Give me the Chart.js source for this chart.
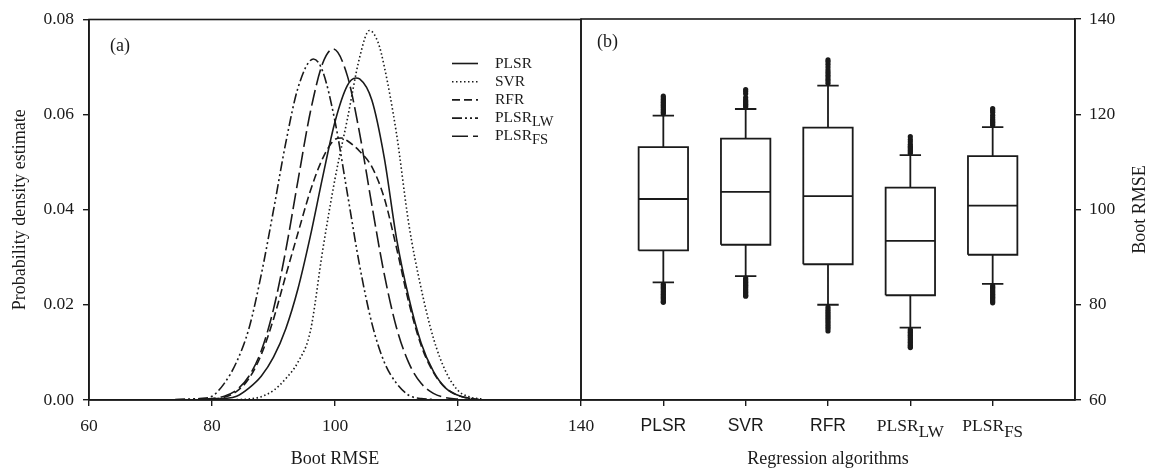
<!DOCTYPE html>
<html>
<head>
<meta charset="utf-8">
<script src="https://cdn.jsdelivr.net/npm/chart.js@4.4.0/dist/chart.umd.min.js"></script>
<style>
  html, body { margin: 0; padding: 0; background: #fff; }
  #wrap { position: relative; width: 1150px; height: 476px; overflow: hidden; }
  #left { position: absolute; left: 0; top: 0; }
  #right { position: absolute; left: 560px; top: 0; }
</style>
</head>
<body>
<div id="wrap">
  <canvas id="left" width="605" height="476"></canvas>
  <canvas id="right" width="590" height="476"></canvas>
</div>
<script>
// (a) density of bootstrap RMSE
const plsrX = [80, 82, 84, 86, 88, 90, 92, 94, 96, 98, 100, 102, 103.4, 104, 106, 108, 110, 112, 114, 116, 118, 120, 122];
const plsrY = [0.0001, 0.0003, 0.0008, 0.0025, 0.0050, 0.0090, 0.0150, 0.0235, 0.0345, 0.0469, 0.0585, 0.0661, 0.0677, 0.0675, 0.0630, 0.0510, 0.0340, 0.0215, 0.0120, 0.0060, 0.0025, 0.0010, 0.0003];

const svrX = [84, 86, 88, 90, 92, 94, 96, 98, 100, 102, 104, 105.6, 107, 108, 110, 112, 114, 116, 118, 120, 122, 124];
const svrY = [0.0001, 0.0002, 0.0007, 0.0020, 0.0045, 0.0080, 0.0145, 0.0315, 0.0465, 0.0590, 0.0720, 0.0777, 0.0752, 0.0702, 0.0560, 0.0370, 0.0235, 0.0130, 0.0060, 0.0020, 0.0006, 0.0002];

const rfrX = [78, 80, 82, 84, 86, 88, 90, 92, 94, 96, 98, 100, 101, 102, 104, 106, 108, 110, 112, 114, 116, 118, 120, 122, 124];
const rfrY = [0.0001, 0.0002, 0.0006, 0.0018, 0.0045, 0.0095, 0.0170, 0.0262, 0.0352, 0.0440, 0.0508, 0.0548, 0.0551, 0.0545, 0.0523, 0.0490, 0.0425, 0.0320, 0.0205, 0.0115, 0.0058, 0.0025, 0.0010, 0.0003, 0.0001];

const lwX = [74, 76, 78, 80, 82, 84, 86, 88, 90, 92, 94, 96.5, 98, 100, 102, 104, 106, 108, 110, 112, 114, 116];
const lwY = [0.0001, 0.0002, 0.0003, 0.0008, 0.0035, 0.0080, 0.0150, 0.0263, 0.0399, 0.0541, 0.0657, 0.0717, 0.0691, 0.0586, 0.0435, 0.0283, 0.0161, 0.0080, 0.0035, 0.0010, 0.0003, 0.0001];

const fsX = [78, 80, 82, 84, 86, 88, 90, 92, 94, 96, 98, 99.7, 102, 104, 106, 108, 110, 112, 114, 116, 118, 120];
const fsY = [0.0001, 0.0003, 0.0008, 0.0021, 0.0050, 0.0103, 0.0191, 0.0315, 0.0463, 0.0606, 0.0708, 0.0738, 0.0682, 0.0561, 0.0409, 0.0265, 0.0152, 0.0078, 0.0035, 0.0014, 0.0005, 0.0002];

const xTicksA = [60, 80, 100, 120, 140];
const yTicksA = [0, 0.02, 0.04, 0.06, 0.08];

// (b) box plots
const algoBase = ['PLSR', 'SVR', 'RFR', 'PLSR', 'PLSR'];
const algoSub = ['', '', '', 'LW', 'FS'];
const q1 = [91.4, 92.6, 88.5, 82.0, 90.5];
const median = [102.2, 103.7, 102.8, 93.4, 100.8];
const q3 = [113.1, 114.9, 117.2, 104.6, 111.2];
const whiskLo = [84.7, 86.0, 80.0, 75.2, 84.4];
const whiskHi = [119.7, 121.1, 126.0, 111.4, 117.3];
const outliers = [
    [120.1, 120.4, 120.7, 121.0, 121.3, 121.6, 121.9, 122.2, 122.5, 122.8, 123.1, 123.4, 123.8,
     84.3, 84.0, 83.7, 83.4, 83.1, 82.8, 82.5, 82.2, 81.9, 81.6, 81.3, 81.0, 80.7, 80.5],
    [121.5, 121.8, 122.1, 122.4, 122.7, 123.0, 123.5, 124.3, 124.8, 125.2,
     85.6, 85.3, 85.0, 84.7, 84.4, 84.1, 83.8, 83.5, 83.2, 82.9, 82.6, 82.3, 82.0, 81.8],
    [126.5, 127.0, 127.4, 127.9, 128.3, 128.8, 129.3, 129.9, 130.5, 131.0, 131.4,
     79.5, 79.0, 78.6, 78.2, 77.8, 77.4, 77.0, 76.6, 76.2, 75.8, 75.4, 75.0, 74.5],
    [111.8, 112.1, 112.4, 112.7, 113.0, 113.3, 113.7, 114.2, 114.7, 115.3,
     74.8, 74.5, 74.2, 73.9, 73.6, 73.3, 73.0, 72.7, 72.4, 72.1, 71.8, 71.5, 71.2, 71.0],
    [117.7, 118.0, 118.3, 118.6, 118.9, 119.3, 119.8, 120.4, 120.8, 121.2,
     84.0, 83.7, 83.4, 83.1, 82.8, 82.5, 82.2, 81.9, 81.6, 81.3, 81.0, 80.7, 80.4]
];
const yTicksB = [60, 80, 100, 120, 140];

const SERIF = '"Liberation Serif", "Times New Roman", serif';
const SANS = '"Liberation Sans", Arial, sans-serif';
const INK = '#1a1a1a';

function pts(xs, ys) {
    return xs.map((x, i) => ({ x: x, y: ys[i] }));
}

function drawSub(ctx, base, sub, x, y, size, subSize, dy, align, baseFamily) {
    ctx.font = size + 'px ' + (baseFamily || SERIF);
    const w1 = ctx.measureText(base).width;
    ctx.font = subSize + 'px ' + SERIF;
    const w2 = sub ? ctx.measureText(sub).width : 0;
    let x0 = align === 'center' ? x - (w1 + w2) / 2 : x;
    ctx.textAlign = 'left';
    ctx.font = size + 'px ' + (baseFamily || SERIF);
    ctx.fillText(base, x0, y);
    if (sub) {
        ctx.font = subSize + 'px ' + SERIF;
        ctx.fillText(sub, x0 + w1, y + dy);
    }
}

const frame = {
    id: 'frame',
    afterDraw(chart) {
        const a = chart.chartArea, ctx = chart.ctx;
        ctx.save();
        ctx.strokeStyle = INK;
        ctx.lineWidth = 1.6;
        ctx.strokeRect(a.left, a.top, a.right - a.left, a.bottom - a.top);
        ctx.restore();
    }
};

const seriesA = [
    { label: 'PLSR', sub: '', xs: plsrX, ys: plsrY, dash: [] },
    { label: 'SVR', sub: '', xs: svrX, ys: svrY, dash: [1.5, 2.5] },
    { label: 'RFR', sub: '', xs: rfrX, ys: rfrY, dash: [8, 4] },
    { label: 'PLSR', sub: 'LW', xs: lwX, ys: lwY, dash: [10, 3, 2, 3, 2, 3] },
    { label: 'PLSR', sub: 'FS', xs: fsX, ys: fsY, dash: [16, 5] }
];

const legendA = {
    id: 'legendA',
    afterDraw(chart) {
        const ctx = chart.ctx;
        ctx.save();
        ctx.fillStyle = INK;
        ctx.textBaseline = 'middle';
        seriesA.forEach((s, i) => {
            const y = 63.5 + i * 18.2;
            ctx.strokeStyle = INK;
            ctx.lineWidth = 1.6;
            ctx.setLineDash(s.dash);
            ctx.beginPath();
            ctx.moveTo(452, y);
            ctx.lineTo(478, y);
            ctx.stroke();
            ctx.setLineDash([]);
            drawSub(ctx, s.label, s.sub, 495, y, 15.5, 14.5, 4, 'left');
        });
        ctx.textBaseline = 'alphabetic';
        ctx.font = '18px ' + SERIF;
        ctx.fillText('(a)', 110, 51);
        ctx.restore();
    }
};

new Chart(document.getElementById('left'), {
    type: 'line',
    data: {
        datasets: seriesA.map(s => ({
            label: s.label + s.sub,
            data: pts(s.xs, s.ys),
            borderColor: INK,
            borderWidth: 1.6,
            borderDash: s.dash,
            pointRadius: 0,
            fill: false,
            cubicInterpolationMode: 'monotone'
        }))
    },
    options: {
        responsive: false,
        animation: false,
        layout: { padding: { top: 19, right: 24, left: 0, bottom: 0 } },
        plugins: { legend: { display: false }, tooltip: { enabled: false } },
        scales: {
            x: {
                type: 'linear', min: 60, max: 140,
                afterBuildTicks: s => { s.ticks = xTicksA.map(v => ({ value: v })); },
                afterFit: s => { s.height = 76; },
                ticks: { color: INK, font: { family: SERIF, size: 17.5 }, padding: 10 },
                grid: { drawOnChartArea: false, tickLength: 6, color: INK, lineWidth: 1.4 },
                border: { color: INK, width: 1.6 },
                title: { display: true, text: 'Boot RMSE', color: INK, font: { family: SERIF, size: 18 }, padding: { top: 0, bottom: 6 } }
            },
            y: {
                type: 'linear', min: 0, max: 0.08,
                afterBuildTicks: s => { s.ticks = yTicksA.map(v => ({ value: v })); },
                afterFit: s => { s.width = 89; },
                ticks: { color: INK, font: { family: SERIF, size: 17.5 }, padding: 9, callback: v => v.toFixed(2) },
                grid: { drawOnChartArea: false, tickLength: 6, color: INK, lineWidth: 1.4 },
                border: { color: INK, width: 1.6 },
                title: { display: true, text: 'Probability density estimate', color: INK, font: { family: SERIF, size: 18 }, padding: { top: 9, bottom: 0 } }
            }
        }
    },
    plugins: [frame, legendA]
});

// box plot pieces built from the stats above
const halfBox = 0.3, halfCap = 0.13;
const boxPts = [], segPts = [], outPts = [];
q1.forEach((v, i) => {
    const c = i + 1;
    boxPts.push({ x: c - halfBox, y: q1[i] }, { x: c + halfBox, y: q1[i] }, { x: c + halfBox, y: q3[i] },
        { x: c - halfBox, y: q3[i] }, { x: c - halfBox, y: q1[i] }, { x: c, y: null });
    segPts.push({ x: c - halfBox, y: median[i] }, { x: c + halfBox, y: median[i] }, { x: c, y: null },
        { x: c, y: q3[i] }, { x: c, y: whiskHi[i] }, { x: c, y: null },
        { x: c, y: q1[i] }, { x: c, y: whiskLo[i] }, { x: c, y: null },
        { x: c - halfCap, y: whiskHi[i] }, { x: c + halfCap, y: whiskHi[i] }, { x: c, y: null },
        { x: c - halfCap, y: whiskLo[i] }, { x: c + halfCap, y: whiskLo[i] }, { x: c, y: null });
    outliers[i].forEach(o => outPts.push({ x: c, y: o }));
});

const labelsB = {
    id: 'labelsB',
    afterDraw(chart) {
        const ctx = chart.ctx, xs = chart.scales.x, a = chart.chartArea;
        ctx.save();
        ctx.fillStyle = INK;
        ctx.textBaseline = 'alphabetic';
        algoBase.forEach((b, i) => {
            const px = xs.getPixelForValue(i + 1);
            if (algoSub[i]) {
                drawSub(ctx, b, algoSub[i], px, 431, 17.5, 17, 6, 'center', SERIF);
            } else {
                drawSub(ctx, b, '', px, 431, 17.5, 17, 0, 'center', SANS);
            }
        });
        ctx.font = '18px ' + SERIF;
        ctx.textAlign = 'left';
        ctx.fillText('(b)', 37, 47);
        // right axis title reads bottom to top
        ctx.translate(580, (a.top + a.bottom) / 2);
        ctx.rotate(-Math.PI / 2);
        ctx.textAlign = 'center';
        ctx.textBaseline = 'middle';
        ctx.fillText('Boot RMSE', 0, 0);
        ctx.restore();
    }
};

new Chart(document.getElementById('right'), {
    type: 'scatter',
    data: {
        datasets: [
            { data: boxPts, showLine: true, spanGaps: false, borderColor: INK, borderWidth: 1.8, pointRadius: 0, tension: 0 },
            { data: segPts, showLine: true, spanGaps: false, borderColor: INK, borderWidth: 1.8, pointRadius: 0, tension: 0 },
            { data: outPts, showLine: false, pointRadius: 2.6, pointBackgroundColor: INK, pointBorderWidth: 0 }
        ]
    },
    options: {
        responsive: false,
        animation: false,
        layout: { padding: { top: 19, right: 0, left: 21, bottom: 0 } },
        plugins: { legend: { display: false }, tooltip: { enabled: false } },
        scales: {
            x: {
                type: 'linear', min: 0, max: 6,
                afterBuildTicks: s => { s.ticks = algoBase.map((b, i) => ({ value: i + 1 })); },
                afterFit: s => { s.height = 76; },
                ticks: { display: false },
                grid: { drawOnChartArea: false, tickLength: 6, color: INK, lineWidth: 1.4 },
                border: { color: INK, width: 1.6 },
                title: { display: true, text: 'Regression algorithms', color: INK, font: { family: SERIF, size: 18 }, padding: { top: 0, bottom: 6 } }
            },
            y: {
                type: 'linear', position: 'right', min: 60, max: 140,
                afterBuildTicks: s => { s.ticks = yTicksB.map(v => ({ value: v })); },
                afterFit: s => { s.width = 75; },
                ticks: { color: INK, font: { family: SERIF, size: 17.5 }, padding: 8 },
                grid: { drawOnChartArea: false, tickLength: 6, color: INK, lineWidth: 1.4 },
                border: { color: INK, width: 1.6 }
            }
        }
    },
    plugins: [frame, labelsB]
});
</script>
</body>
</html>
